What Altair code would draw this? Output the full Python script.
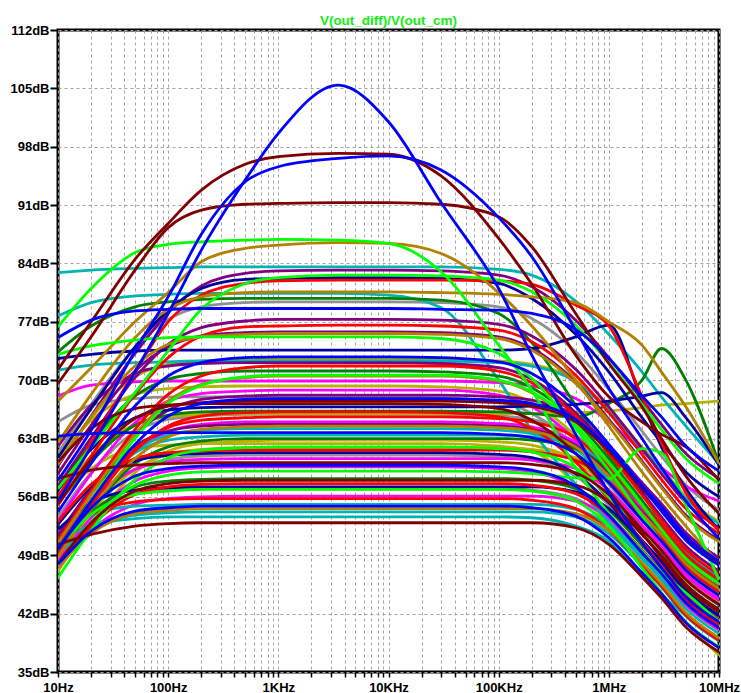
import altair as alt
import pandas as pd

# Frequency grid (Hz) at which every trace is sampled
FREQ_HZ = [10, 20, 50, 100, 200, 500, 1e3, 3.5e3, 1e4, 3e4,
           1e5, 2e5, 5e5, 1e6, 2e6, 3e6, 5e6, 1e7]

# V(out_diff)/V(out_cm) in dB for each Monte Carlo run, grouped by trace colour
BLUE = [
    [55.5, 62, 71, 78, 85.6, 94, 99.6, 105.4, 101, 91.3, 81, 73, 63.5, 56.5, 50.5, 47.5, 44, 41],
    [58, 64, 73.5, 80, 87.5, 93.8, 95.6, 96.6, 96.9, 95.2, 89.5, 84.8, 76, 69, 63, 59.5, 55.5, 51],
    [75.1, 77.2, 78.3, 78.5, 78.6, 78.6, 78.6, 78.6, 78.6, 78.5, 78.4, 78, 76.1, 72.6, 68.1, 65.6, 62.1, 59.1],
    [54.2, 60, 66.9, 70.5, 72.1, 72.7, 72.8, 72.8, 72.8, 72.7, 72.2, 70.8, 66.8, 62.3, 57.3, 54.3, 50.8, 47.8],
    [63.3, 63.6, 63.7, 63.7, 63.7, 63.7, 63.7, 63.7, 63.7, 63.7, 63.5, 63.1, 61.2, 57.7, 53.2, 50.7, 47.2, 44.2],
    [47.9, 51.9, 54.3, 54.7, 54.9, 54.9, 54.9, 54.9, 54.9, 54.9, 54.9, 54.7, 53.7, 51.1, 46.9, 44.4, 40.9, 37.9],
    [49.8, 54.7, 58.5, 59.4, 59.7, 59.8, 59.8, 59.8, 59.8, 59.8, 59.6, 59.2, 57.3, 53.8, 49.3, 46.8, 43.3, 40.3],
    [49.7, 55.5, 62.3, 65.7, 67.2, 67.7, 67.8, 67.8, 67.8, 67.8, 67.6, 67.2, 65.3, 61.8, 57.3, 54.8, 51.3, 48.3],
]
NAVY = [
    [60.7, 66.6, 74, 78.4, 81, 82.1, 82.2, 82.3, 82.3, 82.2, 81.6, 79.8, 75.5, 71, 65.5, 62.5, 59, 56],
    [72.6, 73.1, 73.5, 73.6, 73.6, 73.6, 73.6, 73.6, 73.6, 73.6, 73.6, 73.8, 75.2, 76.6, 67.5, 62, 57, 52],
    [56.8, 61.7, 65.5, 66.4, 66.7, 66.8, 66.8, 66.8, 66.8, 66.8, 66.8, 66.9, 67.1, 67.5, 68.1, 68.5, 65.5, 59.8],
    [52.7, 57.2, 60.3, 61, 61.2, 61.3, 61.3, 61.3, 61.3, 61.3, 61.1, 60.7, 58.8, 55.3, 50.8, 48.3, 44.8, 41.8],
    [52.1, 55.3, 56.8, 57.1, 57.2, 57.2, 57.2, 57.2, 57.2, 57.2, 57.2, 57.2, 56.6, 54.6, 50.7, 48.2, 44.7, 41.7],
]
DARKRED = [
    [71.3, 77, 84.5, 88.8, 92.8, 95.9, 96.8, 97.2, 97.1, 94.5, 87, 81.5, 73, 68, 65, 63.5, 62, 58],
    [69.6, 75.2, 83.2, 88.3, 90.4, 91.1, 91.2, 91.3, 91.3, 91.1, 89.6, 86, 78, 72, 66.8, 63, 58.5, 54],
    [55.2, 60.5, 65.4, 66.9, 67.3, 67.5, 67.5, 67.5, 67.5, 67.5, 67.3, 66.9, 65, 61.5, 57, 54.5, 51, 48],
    [60.2, 64.2, 66.6, 67, 67.2, 67.2, 67.2, 67.2, 67.2, 67.1, 66.6, 65.2, 61.2, 56.7, 51.7, 48.7, 45.2, 42.2],
    [58.2, 59.2, 59.8, 60, 60.1, 60.1, 60.1, 60.1, 60.1, 60.1, 60.1, 59.9, 58.9, 56.3, 52.1, 49.6, 46.1, 43.1],
    [48, 52.9, 56.7, 57.6, 57.9, 58, 58, 58, 58, 58, 58, 58, 57.4, 55.4, 51.5, 49, 45.5, 42.5],
    [50.3, 51.5, 52.5, 52.8, 52.9, 52.9, 52.9, 52.9, 52.9, 52.9, 52.9, 52.9, 52.3, 50.3, 46.4, 43.9, 40.4, 37.4],
]
LIME = [
    [76.4, 81, 85.3, 86.3, 86.6, 86.8, 86.9, 86.8, 86.4, 83, 74.2, 68.8, 59.5, 54, 49.5, 47, 44.5, 41],
    [57, 62, 68.5, 73.5, 78.5, 81.6, 82.3, 82.6, 82.6, 82.5, 82, 80.6, 76.6, 72.1, 67.1, 64.1, 60.6, 57.6],
    [73.1, 74.1, 74.8, 75.1, 75.2, 75.2, 75.2, 75.2, 75.2, 75, 73.2, 70.2, 64.2, 59.2, 53.7, 50.7, 47.2, 44.2],
    [47.8, 53, 57.4, 58.6, 59, 59.1, 59.1, 59.1, 59.1, 59.1, 59, 58.8, 58.3, 58.2, 61.8, 61.3, 55, 46],
    [49.9, 53.9, 56.3, 56.7, 56.9, 56.9, 56.9, 56.9, 56.9, 56.9, 56.9, 56.7, 55.5, 52.5, 47.5, 44.5, 41, 38],
    [46.3, 52, 58.1, 60.7, 61.6, 61.9, 62, 62, 62, 62, 61.8, 61.4, 59.5, 56, 51.5, 49, 45.5, 42.5],
    [49.7, 55.6, 63, 67.2, 69.4, 70.4, 70.6, 70.6, 70.6, 70.6, 70, 68.6, 64.6, 60.1, 55.1, 52.1, 48.6, 45.6],
]
GOLD = [
    [67.5, 71.5, 77, 80.5, 84.2, 85.8, 86.2, 86.5, 86.4, 85.2, 80.5, 76.5, 70, 64.5, 59, 56, 52.5, 48],
    [62.5, 68.3, 75.1, 78.5, 80, 80.5, 80.6, 80.6, 80.6, 80.5, 80.3, 80, 79.3, 77, 74.2, 71, 66.8, 60],
    [59.9, 65.6, 71.7, 74.3, 75.2, 75.5, 75.6, 75.6, 75.6, 75.5, 75, 73.6, 69.6, 65.1, 60.1, 57.1, 53.6, 50.6],
    [47.6, 51.6, 54, 54.4, 54.6, 54.6, 54.6, 54.6, 54.6, 54.6, 54.6, 54.6, 54, 52, 48.1, 45.6, 42.1, 39.1],
    [50.5, 56.3, 63.5, 67.5, 69.5, 70.3, 70.5, 70.5, 70.5, 70.5, 69.9, 68.5, 64.5, 60, 55, 52, 48.5, 45.5],
    [48.8, 54.5, 60.6, 63.2, 64.1, 64.4, 64.5, 64.5, 64.5, 64.5, 64.3, 63.9, 62, 58.5, 54, 51.5, 48, 45],
]
TEAL = [
    [82.9, 83.2, 83.4, 83.5, 83.6, 83.6, 83.6, 83.6, 83.6, 83.6, 83.3, 82.6, 79.5, 75.5, 71, 68, 64.5, 60],
    [77.7, 79.3, 80.1, 80.3, 80.4, 80.4, 80.4, 80.4, 80.2, 78.7, 70, 64, 57.5, 53, 49, 46.5, 43.5, 40.5],
    [50.9, 56.4, 61.6, 63.4, 64, 64.2, 64.2, 64.2, 64.2, 64.2, 64, 63.6, 61.7, 58.2, 53.7, 51.2, 47.7, 44.7],
    [51.1, 56.4, 61.3, 62.8, 63.2, 63.4, 63.4, 63.4, 63.4, 63.4, 63.4, 63.2, 62.2, 59.6, 55.4, 52.9, 49.4, 46.4],
    [51.2, 53.8, 54.9, 55, 55.1, 55.1, 55.1, 55.1, 55.1, 55.1, 55.1, 55.1, 54.5, 52.5, 48.6, 46.1, 42.6, 39.6],
    [49.1, 52.3, 53.8, 54.1, 54.2, 54.2, 54.2, 54.2, 54.2, 54.2, 54.2, 54.2, 53.6, 51.6, 47.7, 45.2, 41.7, 38.7],
    [50.6, 52.6, 53.4, 53.6, 53.6, 53.6, 53.6, 53.6, 53.6, 53.6, 53.6, 53.5, 52.5, 50.7, 46.6, 44.3, 41.8, 38.8],
    [71.2, 71.8, 72.1, 72.2, 72.3, 72.3, 72.3, 72.3, 72.3, 72.3, 72.1, 71.7, 69.8, 66.3, 61.8, 59.3, 55.8, 52.8],
]
RED = [
    [56, 62.5, 71, 77, 80.2, 81.6, 81.9, 82, 82, 82, 81.9, 81.5, 79, 76.5, 68, 62.5, 56.5, 52],
    [55, 60.9, 68.3, 72.7, 75.3, 76.4, 76.5, 76.6, 76.6, 76.5, 76, 74.6, 70.6, 66.1, 61.1, 58.1, 54.6, 51.6],
    [49.2, 55, 61.5, 64.5, 65.7, 66.1, 66.2, 66.2, 66.2, 66.1, 65.6, 64.2, 60.2, 55.7, 50.7, 47.7, 44.2, 41.2],
    [49.9, 55.6, 61.7, 64.3, 65.2, 65.5, 65.6, 65.6, 65.6, 65.6, 65.4, 65, 63.1, 59.6, 55.1, 52.6, 49.1, 46.1],
    [47.6, 52.5, 56.3, 57.2, 57.5, 57.6, 57.6, 57.6, 57.6, 57.6, 57.6, 57.4, 56.4, 53.8, 49.6, 47.1, 43.6, 40.6],
    [50.7, 53.9, 55.4, 55.7, 55.8, 55.8, 55.8, 55.8, 55.8, 55.8, 55.8, 55.6, 54.6, 52, 47.8, 45.3, 41.8, 38.8],
    [53, 57.5, 60.6, 61.3, 61.5, 61.6, 61.6, 61.6, 61.6, 61.6, 61.6, 61.4, 60.4, 57.8, 53.6, 51.1, 47.6, 44.6],
    [50.8, 56.7, 64.1, 68.3, 70.5, 71.5, 71.7, 71.7, 71.7, 71.7, 71.1, 69.7, 65.7, 61.2, 56.2, 53.2, 49.7, 46.7],
]
PURPLE = [
    [59.7, 65.7, 73.2, 78.1, 81.3, 82.8, 83.1, 83.2, 83.2, 83.1, 82.6, 81.2, 77.2, 72.7, 67.7, 64.7, 61.2, 58.2],
    [57.3, 63.1, 70.3, 74.3, 76.3, 77.1, 77.3, 77.3, 77.3, 77.2, 76.7, 75.3, 71.3, 66.8, 61.8, 58.8, 55.3, 52.3],
    [62.1, 67, 70.8, 71.7, 72, 72.1, 72.1, 72.1, 72.1, 72, 71.5, 70.1, 66.1, 61.6, 56.6, 53.6, 50.1, 47.1],
    [51.2, 57, 63.5, 66.4, 67.7, 68.1, 68.2, 68.2, 68.2, 68.2, 68, 67.6, 65.7, 62.2, 57.7, 55.2, 51.7, 48.7],
    [51.4, 56.9, 62.1, 63.9, 64.5, 64.7, 64.7, 64.7, 64.7, 64.7, 64.5, 64.1, 62.2, 58.7, 54.2, 51.7, 48.2, 45.2],
    [58.8, 64.6, 71.1, 74, 75.3, 75.7, 75.8, 75.8, 75.8, 75.7, 75.2, 73.8, 69.8, 65.3, 60.3, 57.3, 53.8, 50.8],
]
DARKGREEN = [
    [73.4, 76.5, 78.8, 79.4, 79.7, 79.8, 79.8, 79.8, 79.8, 79.6, 78, 74.5, 67, 61, 55, 52, 48, 45],
    [57, 62.5, 68.1, 70.1, 70.8, 71.1, 71.1, 71.1, 71.1, 71, 70.5, 69.1, 65.1, 60.6, 55.6, 52.6, 49.1, 46.1],
    [55.1, 60.2, 64.6, 65.8, 66.2, 66.3, 66.3, 66.3, 66.3, 66.3, 66.2, 66, 65.6, 67.2, 70, 73.8, 70, 60],
    [49.6, 54.1, 57.2, 57.9, 58.1, 58.2, 58.2, 58.2, 58.2, 58.2, 58.2, 58, 57, 54.4, 50.2, 47.7, 44.2, 41.2],
    [48.9, 54.4, 60, 62, 62.7, 63, 63, 63, 63, 63, 63, 62.8, 61.8, 59.2, 55, 52.5, 49, 46],
]
GRAY = [
    [61.3, 67.1, 73.9, 77.3, 78.8, 79.3, 79.4, 79.4, 79.4, 79.3, 78.8, 77.4, 73.4, 68.9, 63.9, 60.9, 57.4, 54.4],
    [65, 67, 67.8, 68, 68, 68, 68, 68, 68, 67.9, 67.4, 66, 62, 57.5, 52.5, 49.5, 46, 43],
    [53.6, 58.9, 63.8, 65.3, 65.7, 65.9, 65.9, 65.9, 65.9, 65.9, 65.7, 65.3, 63.4, 59.9, 55.4, 52.9, 49.4, 46.4],
    [49.8, 54.9, 59.3, 60.5, 60.9, 61, 61, 61, 61, 61, 60.8, 60.4, 58.5, 55, 50.5, 48, 44.5, 41.5],
    [50, 54, 56.4, 56.8, 57, 57, 57, 57, 57, 57, 57, 56.8, 55.8, 53.2, 49, 46.5, 43, 40],
]
MAGENTA = [
    [68.1, 69.4, 69.8, 69.9, 69.9, 69.9, 69.9, 69.9, 69.9, 69.9, 69.7, 69.3, 67.8, 65, 61.5, 59.5, 57.3, 55.5],
    [50, 55.7, 61.5, 63.8, 64.7, 65, 65, 65, 65, 65, 64.8, 64.4, 62.5, 59, 54.5, 52, 48.5, 45.5],
    [50.6, 55.5, 59.3, 60.2, 60.5, 60.6, 60.6, 60.6, 60.6, 60.6, 60.6, 60.4, 59.4, 56.8, 52.6, 50.1, 46.6, 43.6],
    [48.3, 53.5, 57.9, 59.1, 59.5, 59.6, 59.6, 59.6, 59.6, 59.6, 59.4, 59, 57.1, 53.6, 49.1, 46.6, 43.1, 40.1],
    [47.5, 52, 55.1, 55.8, 56, 56.1, 56.1, 56.1, 56.1, 56.1, 56.1, 56.1, 55.5, 53.5, 49.6, 47.1, 43.6, 40.6],
    [53.1, 58.8, 64.9, 67.5, 68.4, 68.7, 68.8, 68.8, 68.8, 68.8, 68.2, 66.8, 62.8, 58.3, 53.3, 50.3, 46.8, 43.8],
]
OLIVE = [
    [60.2, 65.5, 70.4, 71.9, 72.3, 72.5, 72.5, 72.5, 72.5, 72.5, 72.3, 71.9, 70, 66.5, 62, 59.5, 56, 53],
    [60.7, 65.2, 68.3, 69, 69.2, 69.3, 69.3, 69.3, 69.3, 69.2, 68.7, 67.3, 63.3, 58.8, 53.8, 50.8, 47.3, 44.3],
    [56, 60.9, 64.7, 65.6, 65.9, 66, 66, 66, 66, 66, 66, 66, 66.1, 66.3, 66.7, 67, 67.2, 67.5],
    [47.1, 52.8, 58.9, 61.5, 62.4, 62.7, 62.8, 62.8, 62.8, 62.8, 62.6, 62.2, 60.3, 56.8, 52.3, 49.8, 46.3, 43.3],
    [55.4, 59.4, 61.8, 62.2, 62.4, 62.4, 62.4, 62.4, 62.4, 62.4, 62.1, 61.5, 57.5, 52.5, 47.5, 44.5, 41, 37],
    [48.6, 54.1, 59.3, 61.1, 61.7, 61.9, 61.9, 61.9, 61.9, 61.9, 61.9, 61.7, 60.7, 58.1, 53.9, 51.4, 47.9, 44.9],
]

TRACE_GROUPS = {
    "gray": GRAY, "olive": OLIVE, "magenta": MAGENTA, "teal": TEAL,
    "darkgreen": DARKGREEN, "purple": PURPLE, "navy": NAVY, "red": RED,
    "gold": GOLD, "lime": LIME, "darkred": DARKRED, "blue": BLUE,
}
TRACE_COLORS = {
    "gray": "#909090", "olive": "#b3b300", "magenta": "#ff00ff", "teal": "#00b3b3",
    "darkgreen": "#008000", "purple": "#800080", "navy": "#0000a0", "red": "#ff0000",
    "gold": "#b38000", "lime": "#00ff00", "darkred": "#800000", "blue": "#0000ff",
}

# Axis ticks
DECADES = [10, 100, 1e3, 1e4, 1e5, 1e6, 1e7]
DECADE_LABELS = ["10Hz", "100Hz", "1KHz", "10KHz", "100KHz", "1MHz", "10MHz"]
DB_TICKS = [35, 42, 49, 56, 63, 70, 77, 84, 91, 98, 105, 112]

rows = []
trace_id = 0
for cname, traces in TRACE_GROUPS.items():
    for vals in traces:
        trace_id += 1
        for f, v in zip(FREQ_HZ, vals):
            rows.append({"trace": trace_id, "color": cname, "freq": f, "gain": v})
df = pd.DataFrame(rows)

x_tick_values = [d * k for d in DECADES[:-1] for k in range(1, 10)] + [DECADES[-1]]
label_expr = ""
for d, lab in zip(DECADES, DECADE_LABELS):
    label_expr += f"datum.value == {d:.0f} ? '{lab}' : "
label_expr += "''"

FONT = "Liberation Sans"
GRID_GRAY = "#a4a4a4"

x_axis = alt.Axis(
    values=x_tick_values, labelExpr=label_expr, title=None, grid=True,
    gridDash=[3, 3], gridColor=GRID_GRAY, gridWidth=1, domain=False,
    tickSize=5, tickWidth=1.5, tickColor="black", labelPadding=4,
    labelFont=FONT, labelFontSize=13, labelFontWeight="bold", labelColor="black",
    labelFlush=False, labelOverlap=False, labelBound=False,
)
y_axis = alt.Axis(
    values=DB_TICKS, labelExpr="datum.value + 'dB'", title=None, grid=True,
    gridDash=[3, 3], gridColor=GRID_GRAY, gridWidth=1, domain=False,
    tickSize=8, tickWidth=2, tickColor="black", labelPadding=1,
    labelFont=FONT, labelFontSize=13, labelFontWeight="bold", labelColor="black",
    labelFlush=False, labelOverlap=False, labelBound=False,
)

chart = alt.Chart(df).mark_line(
    strokeWidth=2.8, interpolate="monotone", clip=True
).encode(
    x=alt.X("freq:Q", scale=alt.Scale(type="log", domain=[10, 1e7], nice=False), axis=x_axis),
    y=alt.Y("gain:Q", scale=alt.Scale(domain=[35, 112], nice=False, zero=False), axis=y_axis),
    color=alt.Color("color:N",
                    scale=alt.Scale(domain=list(TRACE_COLORS.keys()),
                                    range=list(TRACE_COLORS.values())),
                    legend=None),
    detail="trace:N",
).properties(
    width=661,
    height=642,
    padding={"left": 58, "top": 30, "right": 22, "bottom": 21},
    autosize=alt.AutoSizeParams(type="none"),
    background="white",
    title=alt.TitleParams(
        "V(out_diff)/V(out_cm)", color="#11ee11", font=FONT, fontSize=13.5,
        fontWeight="bold", anchor="middle", offset=5, dy=8,
    ),
).configure_view(
    stroke="black", strokeWidth=3
)

chart.save("out.html", embed_options={"renderer": "svg", "actions": False})
